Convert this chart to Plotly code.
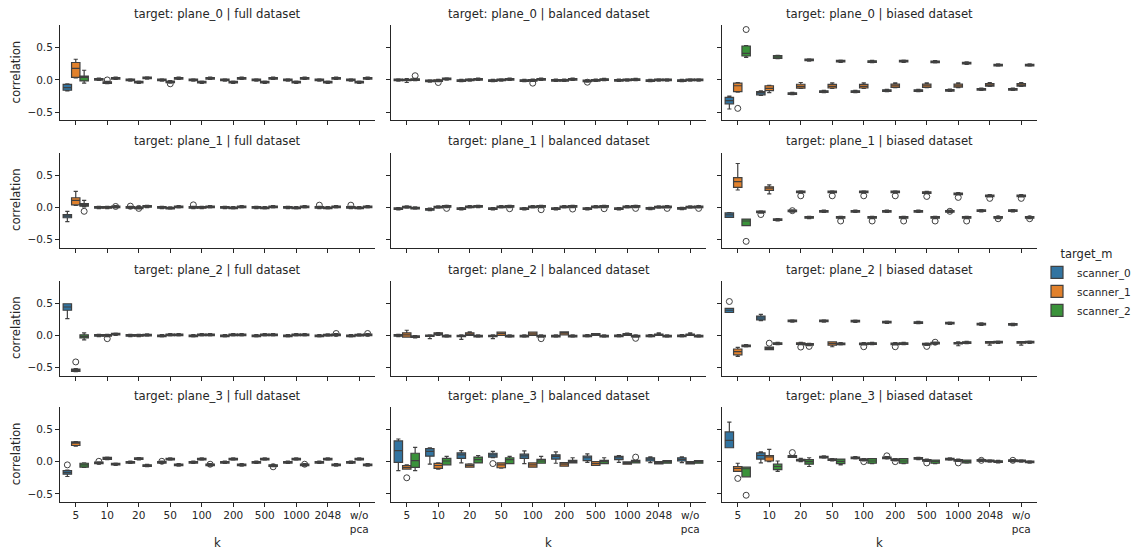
import plotly.graph_objects as go

# ---------------- data ----------------
k_labels = ["5", "10", "20", "50", "100", "200", "500", "1000", "2048", "w/o<br>pca"]
k_names = ["5", "10", "20", "50", "100", "200", "500", "1000", "2048", "w/o pca"]
scanners = ["scanner_0", "scanner_1", "scanner_2"]
targets = ["plane_0", "plane_1", "plane_2", "plane_3"]
datasets = ["full", "balanced", "biased"]
y_ticks = [-0.5, 0.0, 0.5]
y_ticktext = ["\u22120.5", "0.0", "0.5"]

# entry: median (tiny box) or (lower whisker, q1, median, q3, upper whisker)
plane0_full = [
    [(-0.17, -0.16, -0.12, -0.07, -0.06), 0.01, 0.0, 0.0, 0.0, 0.0, 0.0, 0.0, 0.0, 0.0],
    [(0.03, 0.04, 0.18, 0.27, 0.32), -0.04, -0.035, -0.03, -0.035, -0.035, -0.035, -0.035, -0.035, -0.035],
    [(-0.05, -0.015, 0.04, 0.06, 0.15), 0.025, 0.03, 0.025, 0.025, 0.025, 0.025, 0.025, 0.025, 0.025],
]
plane0_full_out = [("10", 1, 0.0), ("50", 1, -0.06)]

plane0_balanced = [
    [0.0, -0.015, -0.01, -0.01, -0.01, -0.005, -0.015, -0.005, -0.01, -0.01],
    [(-0.04, -0.01, 0.0, 0.01, 0.02), -0.01, 0.0, 0.0, -0.005, -0.005, -0.005, 0.0, 0.0, 0.0],
    [0.005, 0.015, 0.01, 0.01, 0.01, 0.01, 0.005, 0.005, 0.0, 0.0],
]
plane0_balanced_out = [("5", 2, 0.065), ("10", 1, -0.04), ("100", 1, -0.05), ("500", 0, -0.035)]

plane0_biased = [
    [(-0.45, -0.37, -0.32, -0.27, -0.25), (-0.24, -0.23, -0.2, -0.18, -0.17), -0.21, -0.18, -0.18,
     -0.165, -0.165, -0.16, -0.145, -0.145],
    [(-0.19, -0.18, -0.09, -0.05, -0.04), (-0.195, -0.165, -0.13, -0.09, -0.085),
     (-0.13, -0.128, -0.1, -0.067, -0.04), (-0.13, -0.125, -0.1, -0.07, -0.045),
     (-0.13, -0.125, -0.1, -0.07, -0.045), (-0.12, -0.115, -0.09, -0.065, -0.045),
     (-0.12, -0.115, -0.09, -0.065, -0.045), (-0.12, -0.11, -0.09, -0.065, -0.045),
     (-0.1, -0.095, -0.075, -0.055, -0.04), (-0.1, -0.095, -0.075, -0.055, -0.04)],
    [(0.35, 0.37, 0.41, 0.525, 0.53), (0.33, 0.335, 0.355, 0.375, 0.38), 0.31, 0.29, 0.285,
     0.29, 0.28, 0.26, 0.23, 0.23],
]
plane0_biased_out = [("5", 1, -0.44), ("5", 2, 0.78)]

plane1_full = [
    [(-0.22, -0.16, -0.135, -0.11, -0.06), 0.0, 0.0, 0.0, 0.0, 0.0, 0.0, 0.0, 0.0, 0.0],
    [(0.03, 0.04, 0.11, 0.15, 0.25), 0.0, -0.005, -0.01, 0.0, -0.005, -0.005, -0.005, -0.005, -0.005],
    [(0.01, 0.02, 0.04, 0.06, 0.11), 0.01, 0.015, 0.01, 0.01, 0.01, 0.01, 0.01, 0.01, 0.01],
]
plane1_full_out = [("5", 2, -0.06), ("10", 2, 0.015), ("20", 0, 0.02), ("20", 1, -0.015),
                   ("100", 0, 0.04), ("2048", 0, 0.035), ("w/o pca", 0, 0.035)]

plane1_balanced = [
    [-0.02, -0.03, -0.02, -0.02, -0.02, -0.02, -0.02, -0.02, -0.015, -0.015],
    [0.005, 0.005, 0.01, 0.01, 0.01, 0.01, 0.01, 0.01, 0.005, 0.005],
    [-0.01, 0.015, 0.015, 0.015, 0.015, 0.015, 0.015, 0.015, 0.01, 0.01],
]
plane1_balanced_out = [("10", 2, -0.015), ("50", 2, -0.02), ("100", 2, -0.035), ("200", 2, -0.025),
                       ("500", 2, -0.02), ("1000", 2, -0.015), ("2048", 2, -0.015), ("w/o pca", 2, -0.015)]

plane1_biased = [
    [(-0.155, -0.155, -0.115, -0.085, -0.08), -0.07, -0.055, -0.06, -0.06, -0.06, -0.06, -0.06, -0.05, -0.05],
    [(0.27, 0.31, 0.40, 0.46, 0.68), (0.21, 0.265, 0.3, 0.32, 0.35), 0.24, 0.24, 0.24, 0.24, 0.23,
     0.21, 0.18, 0.18],
    [(-0.28, -0.28, -0.21, -0.18, -0.18), -0.19, -0.155, -0.155, -0.155, -0.155, -0.155, -0.155,
     -0.155, -0.155],
]
plane1_biased_out = [("5", 2, -0.525), ("10", 0, -0.11), ("20", 0, -0.05), ("20", 1, 0.18),
                     ("50", 1, 0.18), ("50", 2, -0.21), ("100", 1, 0.18), ("100", 2, -0.21),
                     ("200", 1, 0.18), ("200", 2, -0.21), ("500", 1, 0.17), ("500", 2, -0.21),
                     ("1000", 0, -0.06), ("1000", 1, 0.155), ("1000", 2, -0.21),
                     ("2048", 1, 0.14), ("2048", 2, -0.175), ("w/o pca", 1, 0.14), ("w/o pca", 2, -0.175)]

plane2_full = [
    [(0.26, 0.39, 0.44, 0.49, 0.49), 0.0, 0.0, -0.005, -0.005, -0.005, -0.005, -0.005, -0.005, -0.005],
    [(-0.56, -0.555, -0.54, -0.52, -0.515), 0.0, 0.0, 0.01, 0.01, 0.01, 0.01, 0.01, 0.005, 0.005],
    [(-0.07, -0.04, -0.02, 0.01, 0.04), 0.02, 0.005, 0.01, 0.01, 0.01, 0.01, 0.01, 0.01, 0.01],
]
plane2_full_out = [("5", 1, -0.41), ("10", 1, -0.05), ("2048", 2, 0.03), ("w/o pca", 2, 0.03)]

plane2_balanced = [
    [0.0, (-0.05, -0.015, -0.005, 0.005, 0.01), (-0.06, -0.02, -0.01, 0.0, 0.01),
     (-0.05, -0.02, -0.01, 0.0, 0.01), -0.01, -0.01, -0.005, -0.005, -0.005, -0.005],
    [(-0.025, -0.025, 0.01, 0.04, 0.08), (0.0, 0.01, 0.025, 0.04, 0.045), (0.0, 0.0, 0.015, 0.04, 0.055),
     (0.0, 0.0, 0.03, 0.05, 0.05), (0.0, 0.0, 0.025, 0.05, 0.05), (0.01, 0.01, 0.035, 0.055, 0.055),
     (0.0, 0.0, 0.02, 0.03, 0.03), (0.0, 0.0, 0.02, 0.03, 0.035), (0.0, 0.0, 0.01, 0.02, 0.04),
     (0.0, 0.0, 0.01, 0.02, 0.04)],
    [-0.02, -0.01, -0.01, -0.01, -0.01, -0.01, -0.01, -0.01, -0.01, -0.01],
]
plane2_balanced_out = [("100", 2, -0.05), ("1000", 2, -0.045)]

plane2_biased = [
    [(0.355, 0.355, 0.39, 0.42, 0.42), (0.23, 0.24, 0.27, 0.3, 0.325), 0.225, 0.225, 0.22, 0.205,
     0.2, 0.19, 0.175, 0.17],
    [(-0.325, -0.30, -0.25, -0.21, -0.185), (-0.22, -0.22, -0.2, -0.18, -0.18), -0.125,
     (-0.175, -0.15, -0.125, -0.1, -0.1), -0.13, -0.13, -0.135, (-0.16, -0.13, -0.12, -0.11, -0.1),
     (-0.15, -0.12, -0.105, -0.095, -0.095), (-0.15, -0.12, -0.105, -0.095, -0.095)],
    [-0.16, -0.125, -0.14, -0.13, -0.125, -0.125, -0.12, -0.11, -0.105, -0.105],
]
plane2_biased_out = [("5", 0, 0.525), ("10", 1, -0.12), ("20", 1, -0.18), ("20", 2, -0.17),
                     ("100", 1, -0.175), ("200", 1, -0.175), ("500", 1, -0.17), ("500", 2, -0.105)]

plane3_full = [
    [(-0.23, -0.195, -0.17, -0.14, -0.13), -0.02, -0.01, -0.01, -0.01, -0.01, -0.01, -0.01, -0.01, -0.01],
    [(0.24, 0.25, 0.285, 0.305, 0.31), (0.03, 0.035, 0.05, 0.065, 0.07), 0.045, 0.04, 0.04, 0.04,
     0.04, 0.04, 0.04, 0.04],
    [(-0.09, -0.085, -0.05, -0.025, -0.02), -0.04, -0.06, -0.05, -0.05, -0.05, -0.06, -0.05, -0.05, -0.05],
]
plane3_full_out = [("5", 0, -0.05), ("10", 0, 0.005), ("50", 0, 0.005), ("100", 2, -0.04),
                   ("500", 2, -0.08), ("1000", 2, -0.04)]

plane3_balanced = [
    [(-0.14, -0.01, 0.17, 0.32, 0.35), (-0.04, 0.085, 0.16, 0.2, 0.215), (-0.02, 0.05, 0.105, 0.135, 0.17),
     (0.06, 0.07, 0.105, 0.13, 0.16), (-0.03, 0.05, 0.09, 0.115, 0.165), (-0.025, 0.04, 0.08, 0.105, 0.15),
     (-0.01, 0.015, 0.06, 0.085, 0.12), (-0.01, 0.03, 0.06, 0.08, 0.095), (-0.015, 0.01, 0.04, 0.06, 0.075),
     (-0.015, 0.01, 0.035, 0.06, 0.075)],
    [(-0.115, -0.115, -0.09, -0.06, -0.05), (-0.115, -0.105, -0.06, -0.026, -0.02),
     (-0.085, -0.085, -0.06, -0.04, -0.035), (-0.1, -0.095, -0.05, -0.02, -0.02),
     (-0.085, -0.085, -0.05, -0.02, -0.02), (-0.07, -0.07, -0.04, -0.015, -0.015),
     (-0.06, -0.06, -0.03, 0.0, 0.0), (-0.04, -0.04, -0.025, -0.005, -0.005),
     (-0.035, -0.035, -0.02, 0.0, 0.0), (-0.035, -0.035, -0.02, 0.0, 0.0)],
    [(-0.14, -0.09, 0.015, 0.13, 0.22), (-0.05, -0.05, 0.01, 0.05, 0.08), (-0.02, -0.02, 0.03, 0.07, 0.095),
     (-0.03, -0.03, 0.03, 0.06, 0.08), (-0.025, -0.025, 0.01, 0.035, 0.08), (-0.02, -0.02, 0.0, 0.02, 0.06),
     (-0.03, -0.03, 0.0, 0.02, 0.06), (-0.02, -0.02, 0.005, 0.02, 0.02), (-0.025, -0.025, -0.005, 0.015, 0.015),
     (-0.025, -0.025, -0.005, 0.015, 0.015)],
]
plane3_balanced_out = [("5", 1, -0.25), ("50", 0, -0.03), ("1000", 2, 0.07)]

plane3_biased = [
    [(0.215, 0.215, 0.33, 0.46, 0.61), (-0.02, 0.04, 0.095, 0.135, 0.15), (0.065, 0.065, 0.08, 0.095, 0.095),
     0.07, 0.06, 0.06, 0.05, 0.04, 0.02, 0.015],
    [(-0.15, -0.15, -0.105, -0.075, -0.025), (0.0, 0.01, 0.075, 0.095, 0.19), (0.0, 0.01, 0.02, 0.035, 0.05),
     0.03, 0.03, 0.03, 0.02, 0.02, 0.01, 0.01],
    [(-0.235, -0.235, -0.11, -0.085, -0.085), (-0.15, -0.125, -0.075, -0.04, 0.01),
     (-0.075, -0.04, 0.0, 0.03, 0.06), (-0.05, -0.03, 0.005, 0.04, 0.04), (-0.03, -0.025, 0.01, 0.045, 0.045),
     (-0.03, -0.025, 0.01, 0.045, 0.045), (-0.03, -0.025, 0.005, 0.025, 0.025),
     (-0.025, -0.02, 0.005, 0.025, 0.025), 0.0, -0.005],
]
plane3_biased_out = [("5", 1, -0.26), ("5", 2, -0.52), ("20", 0, 0.14), ("100", 1, 0.0), ("200", 0, 0.09),
                     ("200", 1, 0.0), ("500", 1, -0.02), ("1000", 1, -0.02), ("2048", 0, 0.02),
                     ("w/o pca", 0, 0.02)]

panels = [
    [(plane0_full, plane0_full_out), (plane0_balanced, plane0_balanced_out), (plane0_biased, plane0_biased_out)],
    [(plane1_full, plane1_full_out), (plane1_balanced, plane1_balanced_out), (plane1_biased, plane1_biased_out)],
    [(plane2_full, plane2_full_out), (plane2_balanced, plane2_balanced_out), (plane2_biased, plane2_biased_out)],
    [(plane3_full, plane3_full_out), (plane3_balanced, plane3_balanced_out), (plane3_biased, plane3_biased_out)],
]

# ---------------- style / layout ----------------
PAGE_OFF = 8                      # default body margin of the html page
FW, FH = 1143 - PAGE_OFF, 552 - PAGE_OFF
colors = ["#3274a1", "#e1812c", "#3a923a"]
edge = "#404040"
ink = "#262626"
FONT = "DejaVu Sans"
col_left = [60, 391, 722]          # page pixels
col_w = 315
row_top = [25, 152.5, 280.5, 406.7]
row_h = 95
y_range = [-0.62, 0.85]


def px(x):
    return (x - PAGE_OFF) / FW


def py(y):
    return 1 - (y - PAGE_OFF) / FH


def expand(e):
    if isinstance(e, tuple):
        return e
    return (e - 0.018, e - 0.012, e, e + 0.012, e + 0.018)


fig = go.Figure()
annotations = []
layout = {}

for r in range(4):
    for c in range(3):
        idx = r * 3 + c + 1
        sfx = "" if idx == 1 else str(idx)
        data, outs = panels[r][c]
        for s in range(3):
            stats = [expand(e) for e in data[s]]
            fig.add_trace(go.Box(
                x=k_labels,
                lowerfence=[t[0] for t in stats],
                q1=[t[1] for t in stats],
                median=[t[2] for t in stats],
                q3=[t[3] for t in stats],
                upperfence=[t[4] for t in stats],
                orientation="v",
                boxpoints=False,
                offsetgroup=scanners[s],
                fillcolor=colors[s],
                line=dict(color=edge, width=1.2),
                whiskerwidth=0.5,
                name=scanners[s],
                legendgroup=scanners[s],
                showlegend=(idx == 1),
                xaxis="x" + sfx, yaxis="y" + sfx,
                hoverinfo="skip",
            ))
        for s in range(3):
            yv = [None] * len(k_names)
            for kname, si, v in outs:
                if si == s:
                    yv[k_names.index(kname)] = v
            fig.add_trace(go.Scatter(
                x=k_labels, y=yv, mode="markers",
                orientation="v", offsetgroup=scanners[s],
                marker=dict(symbol="circle-open", size=6, color=edge, line=dict(width=1, color=edge)),
                showlegend=False, legendgroup=scanners[s],
                xaxis="x" + sfx, yaxis="y" + sfx, hoverinfo="skip",
            ))
        layout["xaxis" + sfx] = dict(
            domain=[px(col_left[c]), px(col_left[c] + col_w)], anchor="y" + sfx, type="category",
            categoryorder="array", categoryarray=k_labels, range=[-0.5, 9.5],
            showline=True, linecolor=ink, linewidth=1, ticks="outside", ticklen=4,
            tickcolor=ink, tickwidth=1, showgrid=False, zeroline=False, tickangle=0,
            showticklabels=(r == 3), tickfont=dict(family=FONT, size=10.5, color=ink),
        )
        layout["yaxis" + sfx] = dict(
            domain=[py(row_top[r] + row_h), py(row_top[r])], anchor="x" + sfx, range=y_range,
            tickvals=y_ticks, ticktext=y_ticktext,
            showline=True, linecolor=ink, linewidth=1, ticks="outside", ticklen=4,
            tickcolor=ink, tickwidth=1, showgrid=False, zeroline=False,
            showticklabels=(c == 0), tickfont=dict(family=FONT, size=10.5, color=ink),
        )
        annotations.append(dict(
            text=f"target: {targets[r]} | {datasets[c]} dataset",
            x=px(col_left[c] + col_w / 2), y=py(row_top[r] - 11),
            xref="paper", yref="paper", xanchor="center", yanchor="middle",
            showarrow=False, font=dict(family=FONT, size=11.7, color=ink),
        ))
        if c == 0:
            annotations.append(dict(
                text="correlation", textangle=-90,
                x=px(16), y=py(row_top[r] + row_h / 2),
                xref="paper", yref="paper", xanchor="center", yanchor="middle",
                showarrow=False, font=dict(family=FONT, size=11.7, color=ink),
            ))
        if r == 3:
            annotations.append(dict(
                text="k",
                x=px(col_left[c] + col_w / 2), y=py(543),
                xref="paper", yref="paper", xanchor="center", yanchor="middle",
                showarrow=False, font=dict(family=FONT, size=11.7, color=ink),
            ))

fig.update_layout(
    width=FW, height=FH,
    margin=dict(l=0, r=0, t=0, b=0, autoexpand=False),
    paper_bgcolor="white", plot_bgcolor="white",
    boxmode="group", boxgap=0.2, boxgroupgap=0,
    scattermode="group", scattergap=0.2,
    font=dict(family=FONT, size=10.5, color=ink),
    annotations=annotations,
    legend=dict(
        x=px(1037), y=py(243), xanchor="left", yanchor="top",
        title=dict(text="target_m", side="top center", font=dict(family=FONT, size=11.5, color=ink)),
        font=dict(family=FONT, size=10.5, color=ink),
        itemwidth=30,
        bgcolor="rgba(0,0,0,0)", tracegroupgap=0,
    ),
    **layout,
)

fig.write_html("out.html")
